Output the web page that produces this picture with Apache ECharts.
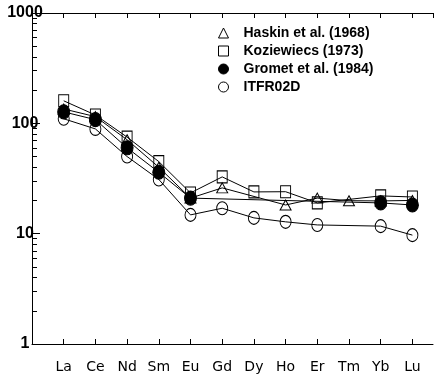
<!DOCTYPE html>
<html>
<head>
<meta charset="utf-8">
<script src="https://cdn.jsdelivr.net/npm/echarts@6/dist/echarts.min.js"></script>
<style>
  html, body { margin: 0; padding: 0; background: #fff; }
  #chart { width: 436px; height: 379px; }
</style>
</head>
<body>
<div id="chart"></div>
<script>
// Rare earth elements along the x axis (positions 1..12)
const elements = ['La', 'Ce', 'Nd', 'Sm', 'Eu', 'Gd', 'Dy', 'Ho', 'Er', 'Tm', 'Yb', 'Lu'];

// Chondrite-normalised abundances; null where an element was not reported
const haskin1968   = [135, 115, 71, 40, 21, 26, null, 18.2, 21, 19.9, 19.8, 20];
const koziewiecs   = [160, 119, 75, 45, 23.4, 32.7, 23.9, 24, 19, null, 22, 21.5];
const gromet1984   = [127, 108, 60, 36, 21, null, null, null, null, null, 19, 18.2];
const itfr02d      = [110, 89, 50, 31, 14.8, 17, 13.9, 12.8, 12.0, null, 11.7, 9.7];

// y-axis tick labels and minor tick positions
const yTickLabels = [1, 10, 100, 1000];
const yMinorTicks = [2, 3, 4, 5, 6, 7, 8, 9, 20, 30, 40, 50, 60, 70, 80, 90, 200, 300, 400, 500, 600, 700, 800, 900];

const seriesNames = ['Haskin et al. (1968)', 'Koziewiecs (1973)', 'Gromet et al. (1984)', 'ITFR02D'];

function pairs(values) {
  return values.map((v, i) => [i + 1, v]);
}

const hollow = { color: 'rgba(0,0,0,0)', borderColor: '#000', borderWidth: 1 };
const solid = { color: '#000', borderColor: '#000', borderWidth: 1 };
const line = { color: '#000', width: 1 };
const legendHollow = { color: '#fff', borderColor: '#000', borderWidth: 1 };

const chart = echarts.init(document.getElementById('chart'), null, { renderer: 'canvas' });

chart.setOption({
  animation: false,
  backgroundColor: '#fff',
  grid: { left: 32, right: 3, top: 13, bottom: 35 },
  legend: {
    orient: 'vertical',
    left: 213,
    top: 21,
    itemGap: 4,
    itemWidth: 10,
    itemHeight: 10,
    textStyle: { fontFamily: 'Liberation Sans', fontWeight: 'bold', fontSize: 14, color: '#000', padding: [0, 0, 0, 10] },
    data: [
      { name: seriesNames[0], icon: 'triangle', itemStyle: legendHollow },
      { name: seriesNames[1], icon: 'rect', itemStyle: legendHollow },
      { name: seriesNames[2], icon: 'circle', itemStyle: { color: '#000', borderColor: '#000', borderWidth: 1 } },
      { name: seriesNames[3], icon: 'circle', itemStyle: legendHollow }
    ]
  },
  xAxis: [
    {
      type: 'value',
      position: 'bottom',
      min: 0,
      max: 12.65,
      interval: 1,
      splitLine: { show: false },
      axisLine: { lineStyle: { color: '#000', width: 1 } },
      axisTick: { inside: true, length: 5, lineStyle: { color: '#000' } },
      axisLabel: {
        margin: 16,
        fontFamily: 'DejaVu Sans',
        fontSize: 14,
        color: '#000',
        showMinLabel: false,
        showMaxLabel: false,
        formatter: v => elements[Math.round(v) - 1] || ''
      }
    },
    {
      type: 'value',
      position: 'top',
      min: 0,
      max: 12.65,
      interval: 1,
      splitLine: { show: false },
      axisLine: { onZero: false, lineStyle: { color: '#000', width: 1 } },
      axisTick: { inside: true, length: 5, lineStyle: { color: '#000' } },
      axisLabel: { show: false }
    }
  ],
  yAxis: [
    {
      type: 'log',
      logBase: 10,
      min: 1,
      max: 1000,
      splitLine: { show: false },
      axisLine: { lineStyle: { color: '#000', width: 1 } },
      axisTick: { inside: true, length: 8, lineStyle: { color: '#000' } },
      axisLabel: {
        margin: 7,
        align: 'center',
        fontFamily: 'Liberation Sans',
        fontWeight: 'bold',
        fontSize: 16,
        color: '#000',
        formatter: v => (yTickLabels.indexOf(Math.round(v)) >= 0 ? String(Math.round(v)) : '')
      }
    },
    {
      type: 'log',
      logBase: 10,
      min: 1,
      max: 1000,
      position: 'left',
      splitLine: { show: false },
      axisLine: { show: false },
      axisLabel: { show: false },
      axisTick: { inside: true, length: 5, customValues: yMinorTicks, lineStyle: { color: '#000' } }
    }
  ],
  series: [
    {
      name: seriesNames[3], type: 'line', data: pairs(itfr02d), connectNulls: true,
      symbol: 'circle', symbolSize: [11, 13], itemStyle: hollow, lineStyle: line, z: 2
    },
    {
      name: seriesNames[0], type: 'line', data: pairs(haskin1968), connectNulls: true,
      symbol: 'triangle', symbolSize: [11, 10], itemStyle: hollow, lineStyle: line, z: 3
    },
    {
      name: seriesNames[1], type: 'line', data: pairs(koziewiecs), connectNulls: true,
      symbol: 'rect', symbolSize: [10, 12], itemStyle: hollow, lineStyle: line, z: 4
    },
    {
      name: seriesNames[2], type: 'line', data: pairs(gromet1984), connectNulls: true,
      symbol: 'circle', symbolSize: [12, 14], itemStyle: solid, lineStyle: line, z: 5
    }
  ]
});
</script>
</body>
</html>
